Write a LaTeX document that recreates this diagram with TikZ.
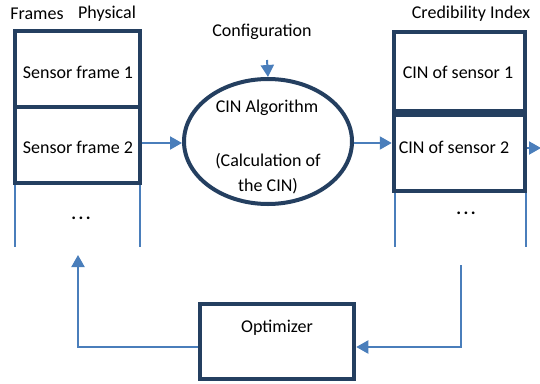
\documentclass[tikz,border=0pt]{standalone}
\usepackage{fontspec}
\setmainfont{Carlito}
\usetikzlibrary{arrows.meta,shapes.geometric}
\definecolor{dkblue}{RGB}{36,63,96}
\definecolor{ltblue}{RGB}{74,126,187}
\newcommand{\mydots}{\textbf{.\hspace{2.5pt}.\hspace{2.5pt}.}}
\begin{document}
\begin{tikzpicture}[x=1pt,y=-1pt,
  txt/.style={inner sep=0pt,font=\fontsize{18}{22}\selectfont},
  framebox/.style={draw=dkblue,line width=4.5pt},
  thin/.style={draw=ltblue,line width=2pt},
  arr/.style={thin,-{Triangle[length=12pt,width=13pt]}}]
\useasboundingbox (0,0) rectangle (540,383);
% thin side lines below stacks
\draw[thin] (15,180) -- (15,247);
\draw[thin] (140,180) -- (140,247);
\draw[thin] (395,188) -- (395,247);
\draw[thin] (526,188) -- (526,247);
% left stack
\node[framebox,minimum width=125pt,minimum height=76pt,inner sep=0pt] (sf1) at (77.5,69) {};
\node[framebox,minimum width=125pt,minimum height=76pt,inner sep=0pt] (sf2) at (77.5,145) {};
\node[txt] (t1) at (78,72) {Sensor frame 1};
\node[txt] (t2) at (78,147) {Sensor frame 2};
\node[txt] (ld) at (81,218) {\mydots};
\node[txt] (frames) at (37,14) {Frames};
\node[txt] (phys) at (107,14) {Physical};
% right stack
\node[framebox,minimum width=131pt,minimum height=79pt,inner sep=0pt] (cin1) at (459.5,71.5) {};
\node[framebox,minimum width=131pt,minimum height=76pt,inner sep=0pt] (cin2) at (459.5,153) {};
\node[txt] (c1) at (458,72) {CIN of sensor 1};
\node[txt] (c2) at (454,147) {CIN of sensor 2};
\node[txt] (rd) at (466,213) {\mydots};
\node[txt] (cred) at (471,14) {Credibility Index};
% ellipse
\node[draw=dkblue,line width=4pt,ellipse,minimum width=168pt,minimum height=125pt,inner sep=0pt] (alg) at (268,141.5) {};
\node[txt] (a1) at (267,108) {CIN Algorithm};
\node[txt] (a2) at (268,161) {(Calculation of};
\node[txt] (a3) at (268,186) {the CIN)};
\node[txt] (conf) at (262,32) {Configuration};
\coordinate (confs) at (267,60);
% optimizer
\node[framebox,minimum width=154pt,minimum height=75pt,inner sep=0pt] (opt) at (277,341.5) {};
\node[txt] (ot) at (277,328) {Optimizer};
% arrows
\draw[arr] (confs) -- (alg.north);
\draw[arr] (sf2.east |- 0,143) -- (alg.west |- 0,143);
\draw[arr] (alg.east |- 0,143) -- (cin2.west |- 0,143);
\coordinate (outend) at (541,148);
\draw[arr] (cin2.east |- 0,148) -- (outend);
\coordinate (rtop) at (461,265);
\draw[arr] (rtop) -- (461,347) -- (opt.east |- 0,347);
\coordinate (ltip) at (78,255);
\draw[arr] (opt.west |- 0,347) -- (78,347) -- (ltip);
\end{tikzpicture}
\end{document}
